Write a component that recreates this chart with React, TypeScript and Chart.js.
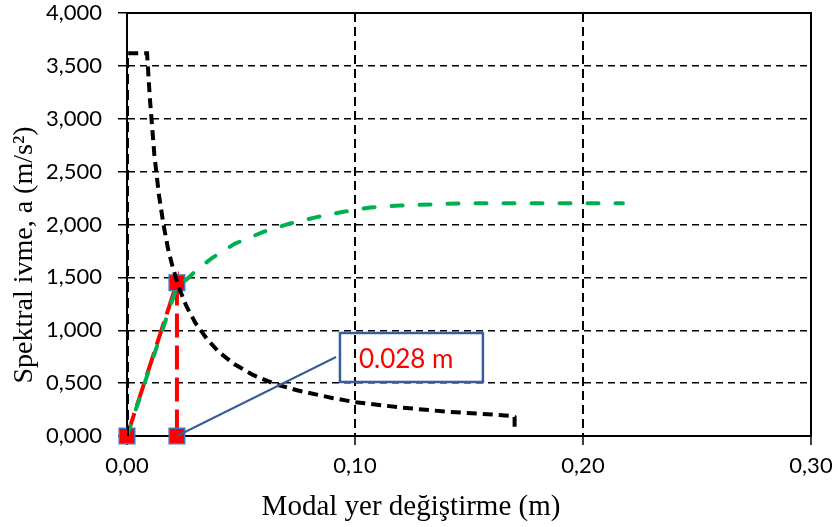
import React, { useEffect, useRef } from 'react';
import { Chart, registerables } from 'chart.js';

Chart.register(...registerables);

// Demand spectrum (black dashed)
const demandX = [0, 0, 0.0088, 0.0100, 0.0120, 0.0140, 0.0160, 0.0180, 0.0200, 0.0230, 0.0260, 0.0300, 0.0350, 0.0400, 0.0470, 0.0550, 0.0650, 0.0750, 0.0900, 0.1000, 0.1200, 0.1400, 0.1550, 0.1690, 0.1700, 0.1700];
const demandY = [0, 3.62, 3.62, 3.20, 2.66, 2.28, 2.00, 1.77, 1.60, 1.39, 1.23, 1.07, 0.92, 0.80, 0.68, 0.58, 0.49, 0.43, 0.36, 0.32, 0.27, 0.23, 0.21, 0.19, 0.18, 0.05];

// Capacity curve (green dashed)
const capacityX = [0, 0.0220, 0.0262, 0.0300, 0.0371, 0.0474, 0.0598, 0.0715, 0.0832, 0.0949, 0.1066, 0.1197, 0.1340, 0.1460, 0.1800, 0.2175];
const capacityY = [0, 1.42, 1.48, 1.56, 1.68, 1.82, 1.93, 2.01, 2.07, 2.12, 2.16, 2.18, 2.19, 2.20, 2.20, 2.20];

// Bilinear / performance point (red)
const perfX = [0, 0.0219, 0.0219];
const perfY = [0, 1.45, 0];

const xMin = 0, xMax = 0.3, xStep = 0.1;
const yMin = 0, yMax = 4, yStep = 0.5;

const xTitle = 'Modal yer değiştirme (m)';
const yTitle = 'Spektral ivme, a (m/s²)';
const calloutText = '0.028 m';

// callout geometry in data units
const calloutBox = { x1: 0.0934, x2: 0.1561, y1: 0.974, y2: 0.511 };
const calloutFrom = { x: 0.0219, y: 0 };
const calloutTo = { x: 0.0917, y: 0.747 };

const toPts = (xs: number[], ys: number[]) => xs.map((x, i) => ({ x, y: ys[i] }));

const overlayPlugin = {
  id: 'overlay',
  afterDatasetsDraw(chart: any) {
    const { ctx, chartArea: a, scales } = chart;
    const sx = scales.x, sy = scales.y;
    ctx.save();
    // frame top/right
    ctx.strokeStyle = '#000';
    ctx.lineWidth = 2;
    ctx.setLineDash([]);
    ctx.beginPath();
    ctx.moveTo(a.left, a.top);
    ctx.lineTo(a.right, a.top);
    ctx.lineTo(a.right, a.bottom);
    ctx.stroke();

    // callout leader
    ctx.strokeStyle = '#3A5C9A';
    ctx.lineWidth = 2;
    ctx.beginPath();
    ctx.moveTo(sx.getPixelForValue(calloutFrom.x), sy.getPixelForValue(calloutFrom.y));
    ctx.lineTo(sx.getPixelForValue(calloutTo.x), sy.getPixelForValue(calloutTo.y));
    ctx.stroke();

    // callout box
    const bx1 = sx.getPixelForValue(calloutBox.x1);
    const bx2 = sx.getPixelForValue(calloutBox.x2);
    const by1 = sy.getPixelForValue(calloutBox.y1);
    const by2 = sy.getPixelForValue(calloutBox.y2);
    ctx.lineWidth = 2.5;
    ctx.strokeRect(bx1, by1, bx2 - bx1, by2 - by1);
    ctx.fillStyle = '#FF0000';
    ctx.font = '26px Lato';
    ctx.textAlign = 'left';
    ctx.textBaseline = 'middle';
    ctx.fillText(calloutText, bx1 + 19, (by1 + by2) / 2 + 2);

    // axis titles
    ctx.fillStyle = '#000';
    ctx.font = '29px "Liberation Serif"';
    ctx.textAlign = 'center';
    ctx.textBaseline = 'alphabetic';
    ctx.fillText(xTitle, 411, 515);
    ctx.translate(32, 255);
    ctx.rotate(-Math.PI / 2);
    ctx.font = '28px "Liberation Serif"';
    ctx.fillText(yTitle, 0, 0);
    ctx.restore();
  },
};

export default function App() {
  const ref = useRef<HTMLCanvasElement>(null);
  useEffect(() => {
    if (!ref.current) return;
    const chart = new Chart(ref.current, {
      type: 'scatter',
      data: {
        datasets: [
          {
            label: 'Talep',
            data: toPts(demandX, demandY),
            showLine: true,
            borderColor: '#000000',
            borderWidth: 4,
            borderDash: [10, 6],
            pointRadius: 0,
            order: 0,
          },
          {
            label: 'Kapasite',
            data: toPts(capacityX, capacityY),
            showLine: true,
            borderColor: '#00B050',
            borderWidth: 4,
            borderDash: [11, 17],
            borderCapStyle: 'round',
            pointRadius: 0,
            order: 1,
          },
          {
            label: 'Performans',
            data: toPts(perfX, perfY),
            showLine: true,
            borderColor: '#FF0000',
            borderWidth: 4,
            borderDash: [24, 8],
            pointStyle: 'rect',
            pointRadius: 11,
            pointBackgroundColor: '#FF0000',
            pointBorderColor: '#4472C4',
            pointBorderWidth: 1.5,
            clip: false,
            order: 2,
          },
        ],
      },
      options: {
        responsive: false,
        animation: false,
        layout: { padding: { top: 13, right: 27, left: 0, bottom: 0 } },
        plugins: { legend: { display: false }, tooltip: { enabled: false } },
        scales: {
          x: {
            type: 'linear',
            min: xMin,
            max: xMax,
            afterFit: (s: any) => { s.height = 91; s.paddingLeft = 0; s.paddingRight = 0; },
            ticks: {
              stepSize: xStep,
              color: '#000',
              font: { family: 'Lato', size: 22 },
              padding: 8,
              callback: (v: any) => Number(v).toFixed(2).replace('.', ','),
            },
            grid: {
              color: (c: any) => (c.tick && c.tick.value > 0 && c.tick.value < xMax ? '#000' : 'rgba(0,0,0,0)'),
              lineWidth: 2,
              drawTicks: true,
              tickLength: 9,
              tickColor: '#000',
              tickWidth: 1.5,
              tickBorderDash: [],
            },
            border: { display: true, color: '#000', width: 2, dash: [9, 5] },
          },
          y: {
            type: 'linear',
            min: yMin,
            max: yMax,
            afterFit: (s: any) => { s.width = 127; s.paddingTop = 0; s.paddingBottom = 0; },
            ticks: {
              stepSize: yStep,
              color: '#000',
              font: { family: 'Lato', size: 22 },
              padding: 16,
              callback: (v: any) => Number(v).toFixed(3).replace('.', ','),
            },
            grid: {
              color: (c: any) => (c.tick && c.tick.value > 0 && c.tick.value < yMax ? '#000' : 'rgba(0,0,0,0)'),
              lineWidth: 1.5,
              drawTicks: true,
              tickLength: 9,
              tickColor: '#000',
              tickWidth: 1.5,
              tickBorderDash: [],
            },
            border: { display: true, color: '#000', width: 2, dash: [7, 5] },
          },
        },
      },
      plugins: [overlayPlugin],
    } as any);
    return () => chart.destroy();
  }, []);
  return (
    <div style={{ position: 'absolute', left: 0, top: 0, width: 838, height: 527, background: '#fff' }}>
      <canvas ref={ref} width={838} height={527} />
    </div>
  );
}
